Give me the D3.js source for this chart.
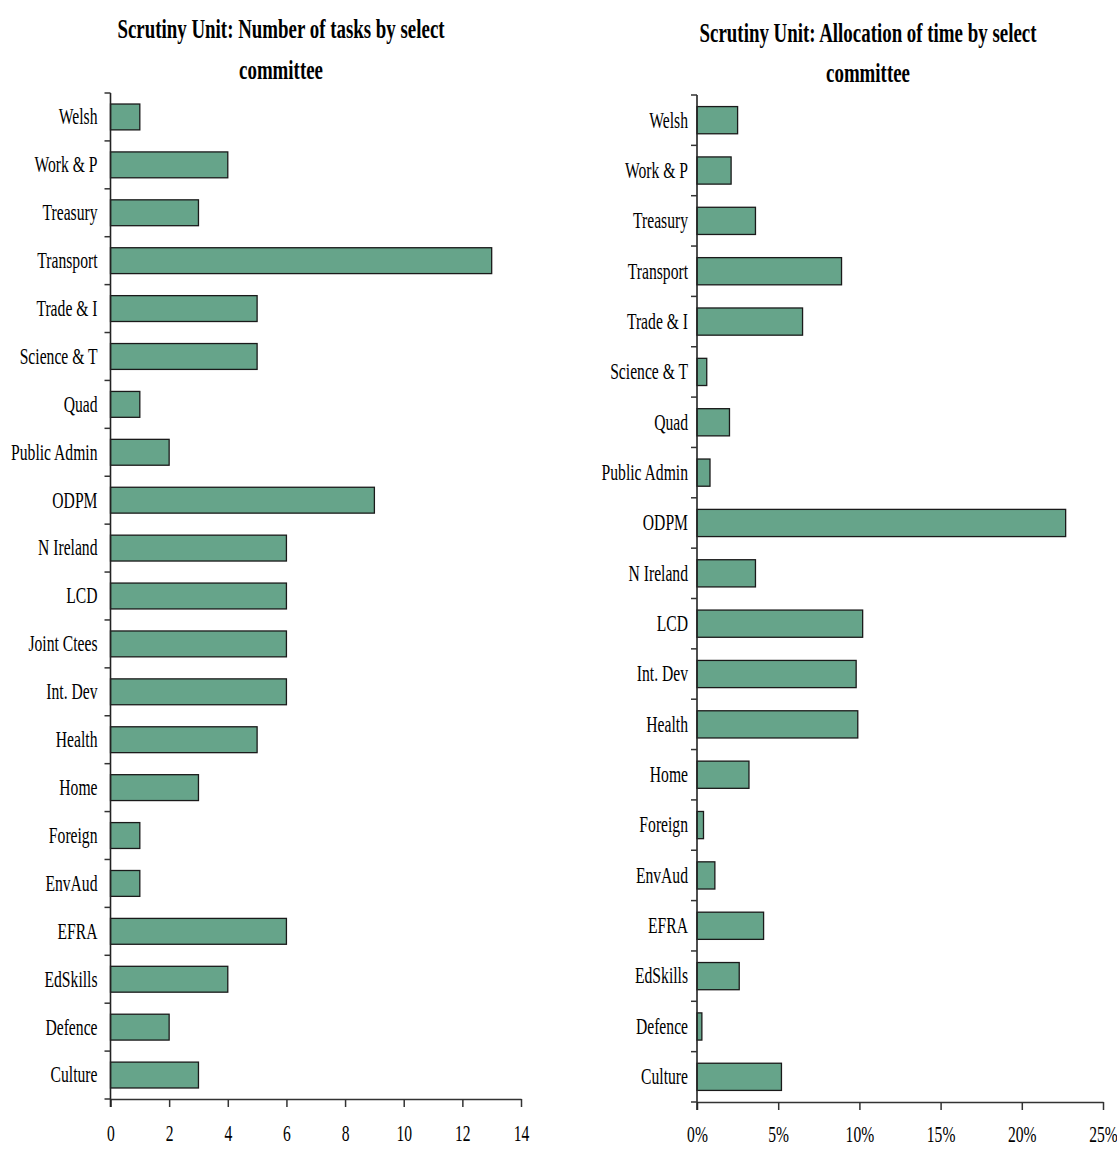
<!DOCTYPE html>
<html>
<head>
<meta charset="utf-8">
<script src="https://cdn.jsdelivr.net/npm/d3@7/dist/d3.min.js"></script>
<style>
  body { margin: 0; background: #fff; }
  text { font-family: "Liberation Serif", "Times New Roman", serif; fill: #000; }
</style>
</head>
<body>
<svg id="chart" width="1117" height="1149"></svg>
<script>
// left panel: number of tasks
var taskCommittees = ["Welsh", "Work & P", "Treasury", "Transport", "Trade & I", "Science & T", "Quad",
    "Public Admin", "ODPM", "N Ireland", "LCD", "Joint Ctees", "Int. Dev", "Health", "Home", "Foreign",
    "EnvAud", "EFRA", "EdSkills", "Defence", "Culture"];
var taskCounts = [1, 4, 3, 13, 5, 5, 1, 2, 9, 6, 6, 6, 6, 5, 3, 1, 1, 6, 4, 2, 3];
var taskTicks = [0, 2, 4, 6, 8, 10, 12, 14];

// right panel: share of time (percent)
var timeCommittees = ["Welsh", "Work & P", "Treasury", "Transport", "Trade & I", "Science & T", "Quad",
    "Public Admin", "ODPM", "N Ireland", "LCD", "Int. Dev", "Health", "Home", "Foreign",
    "EnvAud", "EFRA", "EdSkills", "Defence", "Culture"];
var timeShares = [2.5, 2.1, 3.6, 8.9, 6.5, 0.6, 2.0, 0.8, 22.7, 3.6, 10.2, 9.8, 9.9, 3.2, 0.4, 1.1, 4.1, 2.6, 0.3, 5.2];
var timeTicks = [0, 5, 10, 15, 20, 25];

var svg = d3.select("#chart");
var barFill = "#66a48a";
var squeeze = 0.65;

function drawPanel(p) {
    var g = svg.append("g");

    // title, two lines, squeezed like the original
    p.title.forEach(function (line, i) {
        g.append("text")
            .attr("transform", "translate(" + p.titleX + "," + p.titleY[i] + ") scale(0.7,1)")
            .attr("text-anchor", "middle")
            .style("font-size", "27px")
            .style("font-weight", "bold")
            .text(line);
    });

    var x = d3.scaleLinear().domain([0, p.max]).range([p.x0, p.x1]);
    var y = d3.scaleBand().domain(p.cats).range([p.yTop, p.yBot]).paddingInner(0.46).paddingOuter(0.23);

    // bars
    g.selectAll("rect.bar").data(p.values).enter().append("rect")
        .attr("class", "bar")
        .attr("x", x(0))
        .attr("y", function (d, i) { return y(p.cats[i]); })
        .attr("width", function (d) { return x(d) - x(0); })
        .attr("height", y.bandwidth())
        .attr("fill", barFill)
        .attr("stroke", "#1a1a1a")
        .attr("stroke-width", 1.3);

    // x axis
    var xAxis = d3.axisBottom(x).tickValues(p.ticks).tickSize(8).tickSizeOuter(0).tickFormat(p.fmt);
    var xg = g.append("g").attr("transform", "translate(0," + p.yBot + ")").call(xAxis);
    xg.select(".domain").attr("stroke", "#333").attr("stroke-width", 1.5);
    xg.selectAll(".tick line").attr("stroke", "#333").attr("stroke-width", 1.5);
    xg.selectAll(".tick text")
        .attr("y", p.tickLabelY).attr("dy", null)
        .attr("transform", "scale(" + squeeze + ",1)")
        .style("font-size", "24px")
        .style("font-family", "Liberation Serif");

    // y axis labels (centred on bands)
    var yAxis = d3.axisLeft(y).tickSize(0).tickPadding(p.labelGap / 0.68);
    var yg = g.append("g").attr("transform", "translate(" + p.x0 + ",0)").call(yAxis);
    yg.select(".domain").remove();
    yg.selectAll(".tick text")
        .attr("transform", "scale(0.68,1)")
        .style("font-size", "23px")
        .style("font-family", "Liberation Serif");

    // y axis line and boundary ticks
    var bounds = d3.range(p.cats.length + 1).map(function (i) { return p.yTop + i * (p.yBot - p.yTop) / p.cats.length; });
    g.append("line")
        .attr("x1", p.x0).attr("x2", p.x0)
        .attr("y1", p.yTop).attr("y2", p.yBot + 8)
        .attr("stroke", "#222").attr("stroke-width", 1.6);
    g.selectAll("line.ytick").data(bounds).enter().append("line")
        .attr("class", "ytick")
        .attr("x1", p.x0 - 6).attr("x2", p.x0)
        .attr("y1", function (d) { return d; }).attr("y2", function (d) { return d; })
        .attr("stroke", "#333").attr("stroke-width", 1.5);
}

drawPanel({
    title: ["Scrutiny Unit: Number of tasks by select", "committee"],
    titleX: 281, titleY: [38, 79],
    cats: taskCommittees, values: taskCounts, ticks: taskTicks, max: 14,
    fmt: d3.format("d"),
    x0: 110.5, x1: 521, yTop: 93, yBot: 1099,
    labelGap: 13, tickLabelY: 42
});

drawPanel({
    title: ["Scrutiny Unit: Allocation of time by select", "committee"],
    titleX: 868, titleY: [42, 82],
    cats: timeCommittees, values: timeShares, ticks: timeTicks, max: 25,
    fmt: function (d) { return d + "%"; },
    x0: 697, x1: 1103, yTop: 95, yBot: 1102,
    labelGap: 9, tickLabelY: 40
});
</script>
</body>
</html>
